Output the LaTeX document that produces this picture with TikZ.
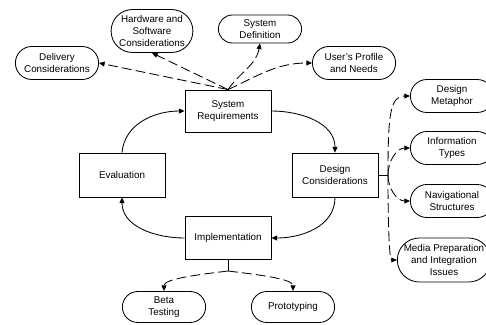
\documentclass[tikz,border=0pt]{standalone}
\usepackage{fontspec}
\setmainfont{Liberation Sans}
\usetikzlibrary{shapes.misc,arrows.meta}
\begin{document}
\begin{tikzpicture}[x=0.025cm,y=0.025cm,line width=0.6pt,
  font=\fontsize{7}{8.5}\selectfont,
  box/.style={draw,rectangle,minimum width=2.15cm,minimum height=1.075cm,align=center},
  oval/.style={draw,rounded rectangle,minimum width=2.15cm,minimum height=0.825cm,align=center,inner sep=1pt},
  flow/.style={-{Triangle[length=4pt,width=3.5pt]}},
  dep/.style={flow,dash pattern=on 7pt off 3pt}]
\clip (0,0) rectangle (486,-324);
% the four phases
\node[box,minimum height=1.05cm] (sysreq) at (228,-111) {System\\Requirements};
\node[box,minimum height=1.1cm] (evaluation) at (122,-175) {Evaluation};
\node[box,minimum height=1.1cm] (design) at (335,-175) {Design\\Considerations};
\node[box] (implementation) at (228,-238) {Implementation};
% what feeds the requirements
\node[oval,minimum width=2.025cm,minimum height=1.075cm] (hardware) at (152,-31) {Hardware and\\Software\\Considerations};
\node[oval,minimum height=0.7cm] (sysdef) at (260,-29) {System\\Definition};
\node[oval] (delivery) at (57,-63) {Delivery\\Considerations};
\node[oval] (profile) at (354,-63) {User's Profile\\and Needs};
% design topics
\node[oval] (metaphor) at (452,-96) {Design\\Metaphor};
\node[oval] (infotypes) at (452,-148) {Information\\Types};
\node[oval] (navigation) at (452,-201) {Navigational\\Structures};
\node[oval,minimum width=1.95cm,minimum height=1.1cm,inner sep=0pt] (media) at (444,-260) {Media Preparation\\and Integration\\Issues};
% implementation outcomes
\node[oval,minimum height=0.775cm] (beta) at (164,-307) {Beta\\Testing};
\node[oval,minimum height=0.775cm] (prototyping) at (293,-307) {Prototyping};
% the cycle
\draw[flow] (evaluation.north) to[out=85,in=180] (sysreq.west);
\draw[flow] (sysreq.east) to[out=0,in=90] (design.north);
\draw[flow] (design.south) to[out=-90,in=0] (implementation.east);
\draw[flow] (implementation.west) to[out=180,in=-90] (evaluation.south);
% fan out from the requirements
\coordinate (S) at (sysreq.north);
\draw[dep] (S) -- (delivery.east);
\draw[dep] (S) -- (hardware.south);
\draw[dep] (S) to[out=55,in=-100] (sysdef.south);
\draw[dep] (S) to[out=25,in=180] (profile.west);
% design branches
\coordinate (D) at (388,-175);
\draw (design.east) -- (D);
\draw[dep] (D) .. controls (388,-115) and (390,-96) .. (metaphor.west);
\draw[dep] (D) to[out=90,in=180] (infotypes.west);
\draw[dep] (D) to[out=-90,in=180] (navigation.west);
\draw[dep] (D) .. controls (388,-240) and (390,-260) .. (media.west);
% implementation branches
\coordinate (I) at (228,-271);
\draw (implementation.south) -- (I);
\draw[dep] (I) .. controls (195,-275) and (164,-279) .. (beta.north);
\draw[dep] (I) .. controls (261,-275) and (293,-279) .. (prototyping.north);
\end{tikzpicture}
\end{document}
